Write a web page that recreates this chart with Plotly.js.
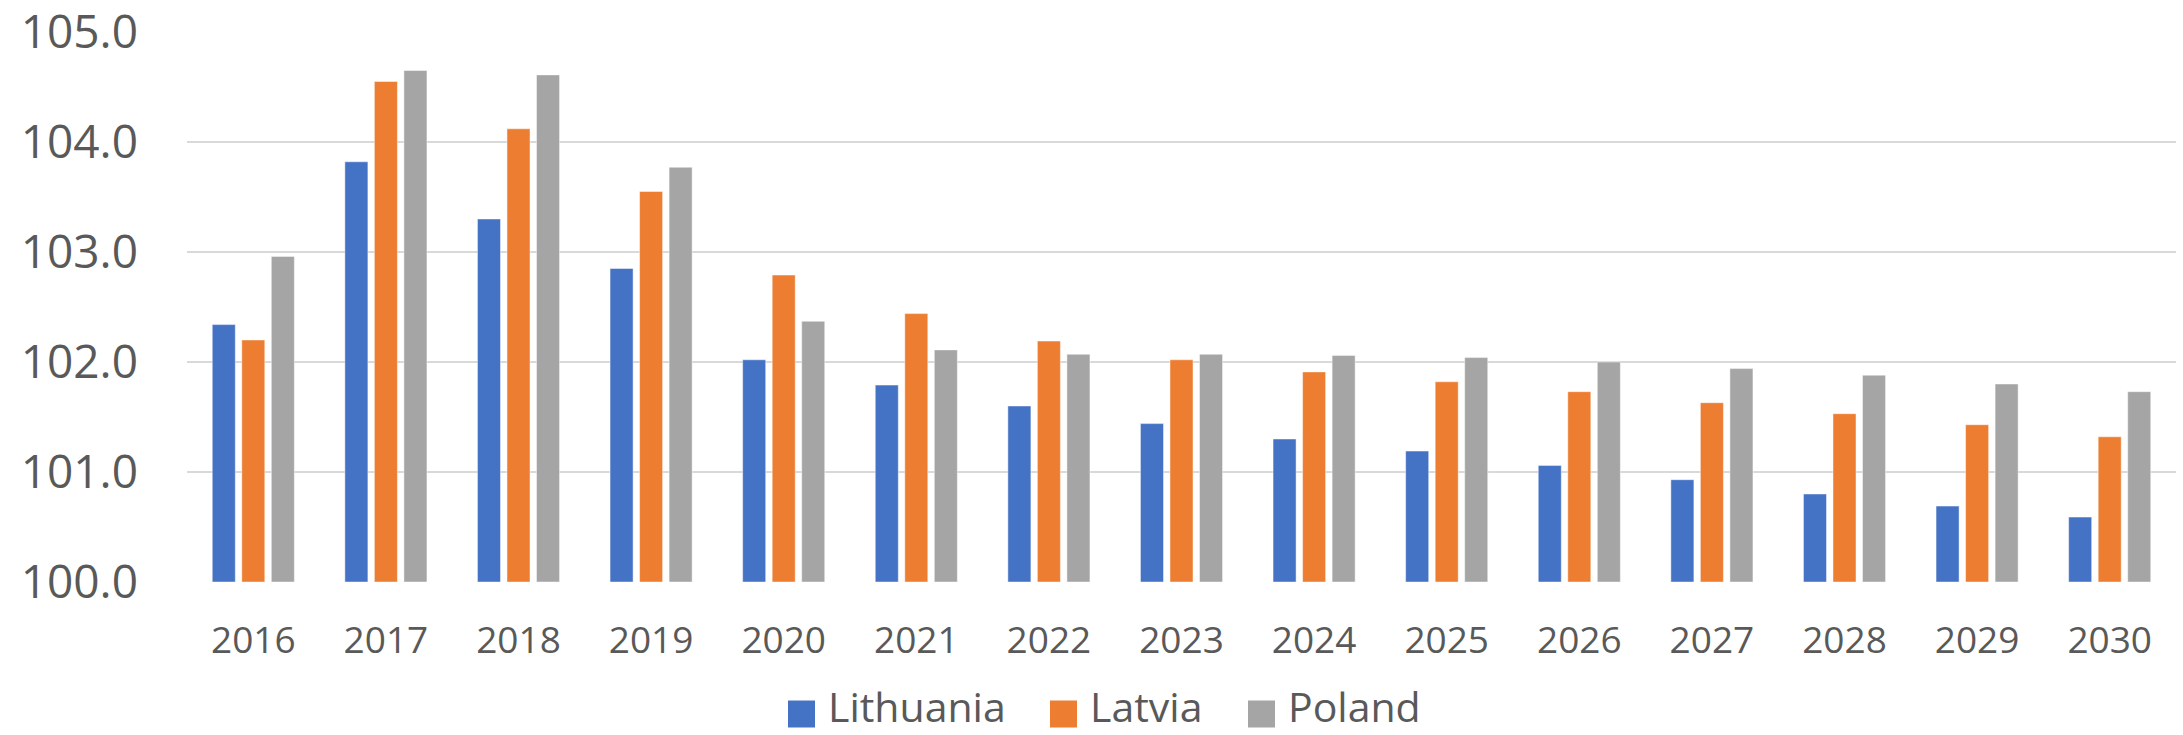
<!DOCTYPE html>
<html>
<head>
<meta charset="utf-8">
<script src="https://cdn.plot.ly/plotly-3.0.1.min.js"></script>
<style>html,body{margin:0;padding:0;background:#fff;}#chart{width:2183px;height:735px;}</style>
</head>
<body>
<div id="chart"></div>
<script>
var years = ["2016","2017","2018","2019","2020","2021","2022","2023","2024","2025","2026","2027","2028","2029","2030"];
var lithuania = [102.34, 103.82, 103.30, 102.85, 102.02, 101.79, 101.60, 101.44, 101.30, 101.19, 101.06, 100.93, 100.80, 100.69, 100.59];
var latvia    = [102.20, 104.55, 104.12, 103.55, 102.79, 102.44, 102.19, 102.02, 101.91, 101.82, 101.73, 101.63, 101.53, 101.43, 101.32];
var poland    = [102.96, 104.65, 104.61, 103.77, 102.37, 102.11, 102.07, 102.07, 102.06, 102.04, 102.00, 101.94, 101.88, 101.80, 101.73];
var seriesNames = ["Lithuania", "Latvia", "Poland"];
var seriesColors = ["#4472C4", "#ED7D31", "#A5A5A5"];
var yTicks = [100, 101, 102, 103, 104, 105];

var allSeries = [lithuania, latvia, poland];
var traces = allSeries.map(function (vals, i) {
  return {
    type: "bar",
    name: seriesNames[i],
    showlegend: false,
    x: years,
    y: vals.map(function (v) { return v - 100; }),
    base: 100,
    marker: { color: seriesColors[i], line: { color: "rgba(255,255,255,0.45)", width: 1 } },
    hoverinfo: "skip"
  };
});

// ---- layout geometry (pixels) ----
var W = 2183, H = 735;
var M = { l: 187, r: 7, t: 32, b: 153 };
var plotW = W - M.l - M.r, plotH = H - M.t - M.b;
function px2x(px) { return (px - M.l) / plotW; }
function py2y(py) { return (H - M.b - py) / plotH; }

// custom legend (larger square swatches like the reference)
var legSwatchLeft = [788, 1050, 1248];
var legSwatch = 27, legCenterY = 714, legTextGap = 14;
var font = "'Open Sans', 'Noto Sans', 'DejaVu Sans', sans-serif";
var shapes = [], annotations = [];
seriesNames.forEach(function (n, i) {
  var x0 = legSwatchLeft[i];
  shapes.push({
    type: "rect", xref: "paper", yref: "paper",
    x0: px2x(x0), x1: px2x(x0 + legSwatch),
    y0: py2y(legCenterY + legSwatch / 2), y1: py2y(legCenterY - legSwatch / 2),
    fillcolor: seriesColors[i], line: { width: 0 }, layer: "above"
  });
  annotations.push({
    xref: "paper", yref: "paper",
    x: px2x(x0 + legSwatch + legTextGap - 2), y: py2y(735),
    xanchor: "left", yanchor: "bottom",
    borderpad: 0,
    text: n, showarrow: false,
    font: { size: 41, family: font, color: "#595959" }
  });
});

var layout = {
  width: W,
  height: H,
  paper_bgcolor: "#ffffff",
  plot_bgcolor: "#ffffff",
  margin: M,
  barmode: "group",
  bargap: 0.332,
  bargroupgap: 0.22,
  showlegend: false,
  font: { family: font, color: "#595959" },
  xaxis: {
    type: "category",
    showgrid: false,
    zeroline: false,
    showline: false,
    ticks: "",
    ticklabelstandoff: 33,
    tickfont: { size: 37, family: font, color: "#595959" }
  },
  yaxis: {
    range: [100, 105],
    tickvals: yTicks,
    ticktext: yTicks.map(function (t) { return t.toFixed(1); }),
    ticklabeloverflow: "allow",
    showgrid: true,
    gridcolor: "#D9D9D9",
    gridwidth: 2,
    zeroline: false,
    showline: false,
    ticks: "",
    ticklabelstandoff: 48,
    tickfont: { size: 46, family: font, color: "#595959" }
  },
  shapes: shapes,
  annotations: annotations
};

Plotly.newPlot("chart", traces, layout, { displayModeBar: false, staticPlot: true });
</script>
</body>
</html>
